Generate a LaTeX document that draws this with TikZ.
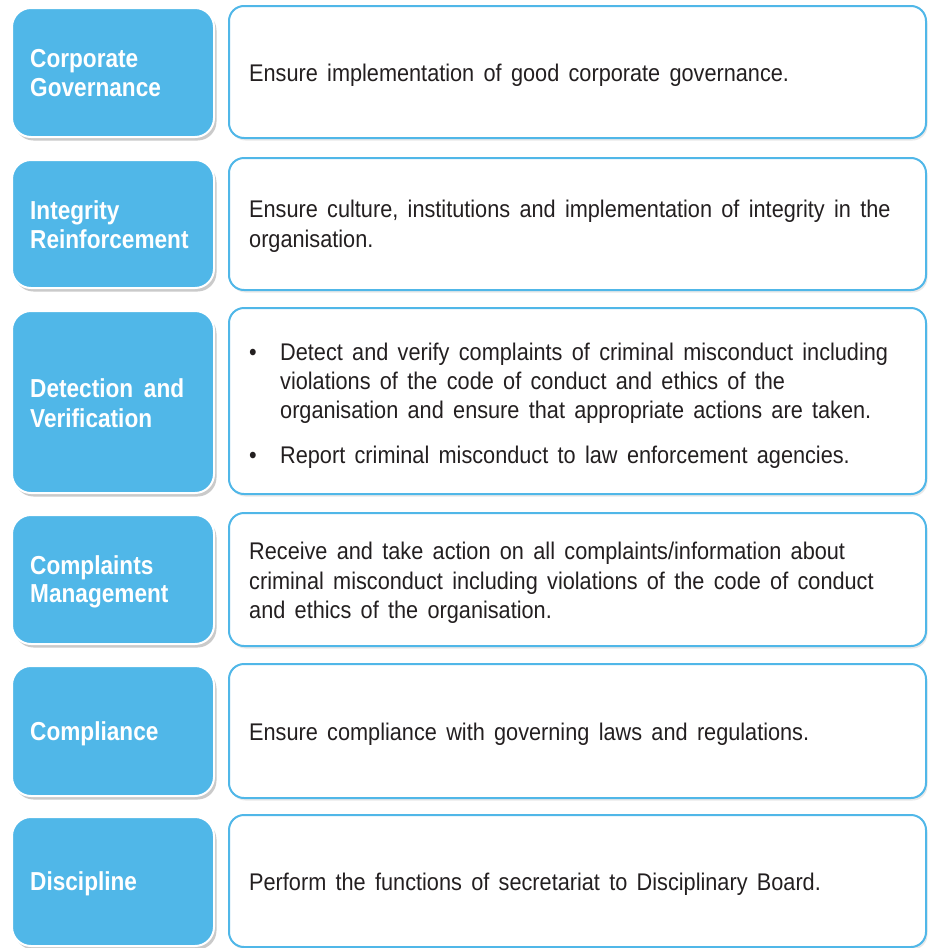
\documentclass[tikz,border=0pt]{standalone}
\usepackage{fontspec}
\setmainfont[FakeStretch=0.9,WordSpace={1.55}]{Liberation Sans}
\newfontfamily\lblfont[FakeStretch=0.87,WordSpace={1.7}]{Liberation Sans}
\usetikzlibrary{shadows}
\definecolor{boxblue}{HTML}{50B7E8}
\definecolor{txtgray}{HTML}{231F20}
\tikzset{
  bluebox/.style={draw=white, line width=2pt, fill=boxblue, rounded corners=19pt,
    inner sep=0pt, minimum width=202pt,
    drop shadow={shadow xshift=2.5pt, shadow yshift=-3.5pt, opacity=0.35, fill=black!60}},
  whitebox/.style={draw=boxblue, line width=2pt, fill=white, rounded corners=15pt,
    inner sep=0pt, minimum width=697pt,
    drop shadow={shadow xshift=1.5pt, shadow yshift=-2.5pt, opacity=0.15, fill=black!60}},
  lbl/.style={anchor=base west, inner sep=0pt, text=white,
    font=\lblfont\bfseries\fontsize{26}{28}\selectfont},
  body/.style={anchor=base west, inner sep=0pt, text=txtgray,
    font=\fontsize{24.1}{29}\selectfont},
  bul/.style={anchor=base, inner sep=0pt, text=txtgray,
    font=\fontsize{24.1}{29}\selectfont},
}
\begin{document}
\begin{tikzpicture}[x=1pt,y=-1pt]
\useasboundingbox (0,0) rectangle (930,948);
% boxes
\node[bluebox, minimum height=129pt] (b1) at (113,72.5) {};
\node[whitebox, minimum height=132pt] (w1) at (577.5,72) {};
\node[bluebox, minimum height=128pt] (b2) at (113,224) {};
\node[whitebox, minimum height=132pt] (w2) at (577.5,224) {};
\node[bluebox, minimum height=182pt] (b3) at (113,402) {};
\node[whitebox, minimum height=186pt] (w3) at (577.5,401) {};
\node[bluebox, minimum height=129pt] (b4) at (113,579.5) {};
\node[whitebox, minimum height=133pt] (w4) at (577.5,579.5) {};
\node[bluebox, minimum height=130pt] (b5) at (113,731) {};
\node[whitebox, minimum height=134pt] (w5) at (577.5,731) {};
\node[bluebox, minimum height=129pt] (b6) at (113,881.5) {};
\node[whitebox, minimum height=132pt] (w6) at (577.5,881) {};
% row 1
\node[lbl] (l1a) at (30,67) {Corporate};
\node[lbl] (l1b) at (30,96) {Governance};
\node[body] (t1a) at (249,81) {Ensure implementation of good corporate governance.};
% row 2
\node[lbl] (l2a) at (30,219) {Integrity};
\node[lbl] (l2b) at (30,248) {Reinforcement};
\node[body] (t2a) at (249,217) {Ensure culture, institutions and implementation of integrity in the};
\node[body] (t2b) at (249,247) {organisation.};
% row 3
\node[lbl] (l3a) at (30,397) {Detection and};
\node[lbl] (l3b) at (30,427) {Verification};
\node[bul] (p3a) at (253,360) {•};
\node[body] (t3a) at (280,360) {Detect and verify complaints of criminal misconduct including};
\node[body] (t3b) at (280,389) {violations of the code of conduct and ethics of the};
\node[body] (t3c) at (280,418) {organisation and ensure that appropriate actions are taken.};
\node[bul] (p3b) at (253,463) {•};
\node[body] (t3d) at (280,463) {Report criminal misconduct to law enforcement agencies.};
% row 4
\node[lbl] (l4a) at (30,574) {Complaints};
\node[lbl] (l4b) at (30,602) {Management};
\node[body] (t4a) at (249,559) {Receive and take action on all complaints/information about};
\node[body] (t4b) at (249,589) {criminal misconduct including violations of the code of conduct};
\node[body] (t4c) at (249,618) {and ethics of the organisation.};
% row 5
\node[lbl] (l5a) at (30,740) {Compliance};
\node[body] (t5a) at (249,740) {Ensure compliance with governing laws and regulations.};
% row 6
\node[lbl] (l6a) at (30,890) {Discipline};
\node[body] (t6a) at (249,890) {Perform the functions of secretariat to Disciplinary Board.};
\end{tikzpicture}
\end{document}
